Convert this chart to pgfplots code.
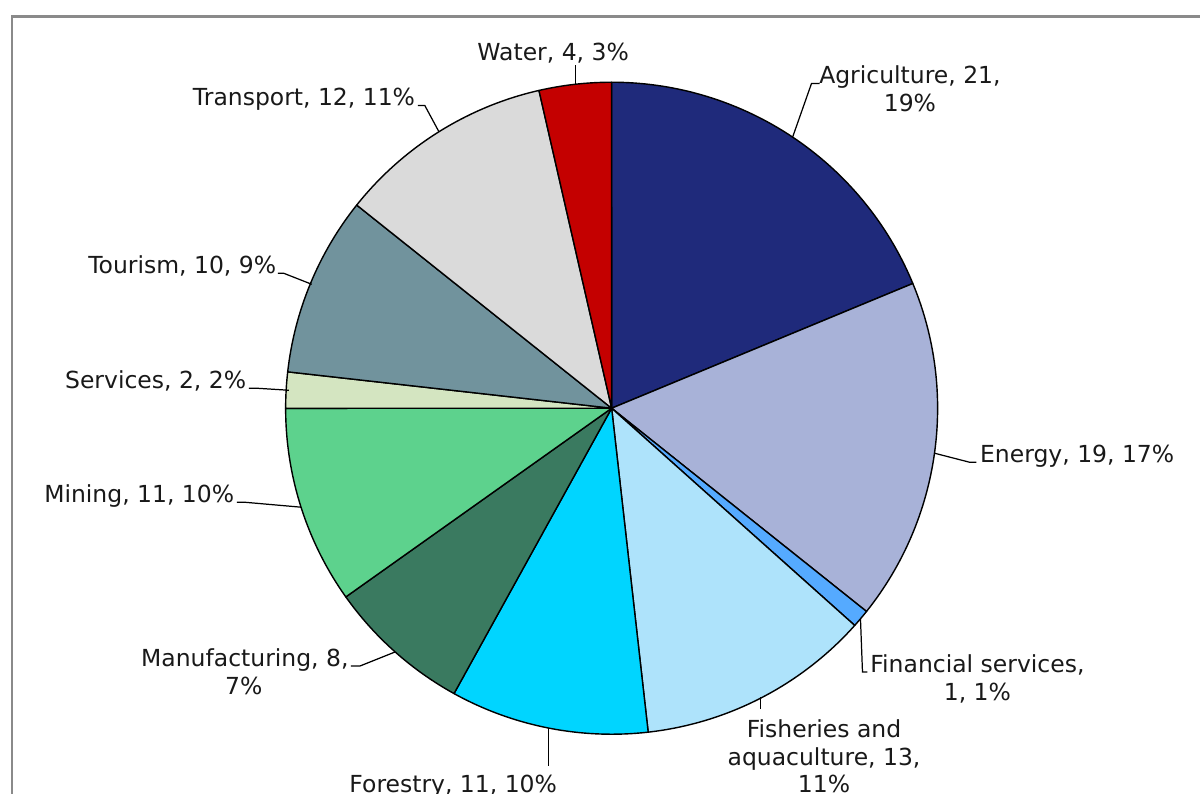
\documentclass[border=0pt]{standalone}
\usepackage{pgfplots}
\usepackage{pgfplotstable}
\pgfplotsset{compat=1.18}
\usepackage{fontspec}
\setmainfont{DejaVu Sans}
\definecolor{cAgri}{HTML}{1F2A7B}
\definecolor{cEnergy}{HTML}{A8B2D8}
\definecolor{cFin}{HTML}{55AAFF}
\definecolor{cFish}{HTML}{AEE3FB}
\definecolor{cForest}{HTML}{00D5FF}
\definecolor{cManu}{HTML}{3A7A60}
\definecolor{cMining}{HTML}{5DD28D}
\definecolor{cServ}{HTML}{D4E5C1}
\definecolor{cTour}{HTML}{71939D}
\definecolor{cTrans}{HTML}{DADADA}
\definecolor{cWater}{HTML}{C40000}
\definecolor{frameg}{HTML}{8A8A8A}

% sector, value, colour (clockwise from 12 o'clock)
\pgfplotstableread{
sector value col
Agriculture 21 cAgri
Energy 19 cEnergy
Financial 1 cFin
Fisheries 13 cFish
Forestry 11 cForest
Manufacturing 8 cManu
Mining 11 cMining
Services 2 cServ
Tourism 10 cTour
Transport 12 cTrans
Water 4 cWater
}\piedata

\begin{document}
\begin{tikzpicture}
\path[use as bounding box] (0,0) rectangle (12,7.94);
\begin{axis}[
  x=0.01cm, y=0.01cm, y dir=reverse,
  xmin=0, xmax=1200, ymin=0, ymax=794,
  hide axis, clip=false, scale only axis,
]
% frame
\draw[frameg, line width=0.6pt] (axis cs:12,800) -- (axis cs:12,16) -- (axis cs:1205,16);

\pgfplotsextra{
  \pgfplotstablegetrowsof{\piedata}
  \pgfmathtruncatemacro{\N}{\pgfplotsretval-1}
  \def\total{0}
  \foreach \i in {0,...,\N}{
    \pgfplotstablegetelem{\i}{value}\of\piedata
    \pgfmathsetmacro{\t}{\total+\pgfplotsretval}
    \xdef\total{\t}
  }
  \coordinate (C) at (axis cs:612,408);
  \xdef\ang{90}
  \foreach \i in {0,...,\N}{
    \pgfplotstablegetelem{\i}{value}\of\piedata
    \let\v\pgfplotsretval
    \pgfplotstablegetelem{\i}{col}\of\piedata
    \let\c\pgfplotsretval
    \pgfmathsetmacro{\endang}{\ang-\v/\total*360}
    \filldraw[fill=\c, draw=black, line width=0.4pt, line join=round]
      (C) -- ++(\ang:3.26cm) arc[start angle=\ang, end angle=\endang, radius=3.26cm] -- cycle;
    \xdef\ang{\endang}
  }
}

% leader lines
\begin{scope}[line width=0.35pt, black]
\draw (axis cs:576,65) -- (axis cs:576,84);
\draw (axis cs:820,83) -- (axis cs:812,83) -- (axis cs:793,137);
\draw (axis cs:418,105) -- (axis cs:425,105) -- (axis cs:439,131);
\draw (axis cs:278,273) -- (axis cs:284,273) -- (axis cs:312,284);
\draw (axis cs:249,388) -- (axis cs:257,388) -- (axis cs:289,390);
\draw (axis cs:237,502) -- (axis cs:244,502) -- (axis cs:301,507);
\draw (axis cs:935,453) -- (axis cs:970,462) -- (axis cs:977,462);
\draw (axis cs:861,619) -- (axis cs:863,672) -- (axis cs:868,672);
\draw (axis cs:761,697) -- (axis cs:761,709);
\draw (axis cs:549,728) -- (axis cs:549,766);
\draw (axis cs:351,666) -- (axis cs:360,666) -- (axis cs:395,652);
\end{scope}

% labels
\begin{scope}[every node/.style={inner sep=0pt, font=\fontsize{6.68}{8}\selectfont, text=black!90}]
\node[anchor=base] at (axis cs:553.5,60) {Water, 4, 3\%};
\node[anchor=base] at (axis cs:910.5,83) {Agriculture, 21,};
\node[anchor=base] at (axis cs:910.5,111) {19\%};
\node[anchor=base east] at (axis cs:416,105) {Transport, 12, 11\%};
\node[anchor=base east] at (axis cs:277,273) {Tourism, 10, 9\%};
\node[anchor=base east] at (axis cs:247,388) {Services, 2, 2\%};
\node[anchor=base east] at (axis cs:235,502) {Mining, 11, 10\%};
\node[anchor=base west] at (axis cs:980,462) {Energy, 19, 17\%};
\node[anchor=base] at (axis cs:978,672) {Financial services,};
\node[anchor=base] at (axis cs:978,700) {1, 1\%};
\node[anchor=base] at (axis cs:245,666) {Manufacturing, 8,};
\node[anchor=base] at (axis cs:244,694) {7\%};
\node[anchor=base] at (axis cs:824.5,737) {Fisheries and};
\node[anchor=base] at (axis cs:824.5,765) {aquaculture, 13,};
\node[anchor=base] at (axis cs:824.5,792) {11\%};
\node[anchor=base] at (axis cs:453.5,792) {Forestry, 11, 10\%};
\end{scope}
\end{axis}
\end{tikzpicture}
\end{document}
